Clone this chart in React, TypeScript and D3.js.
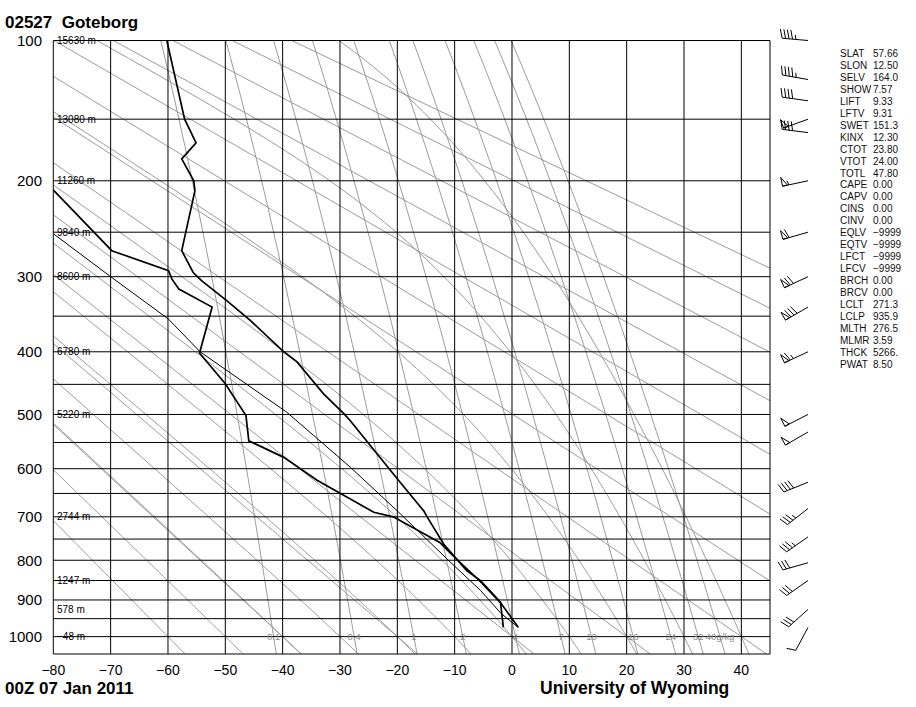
import React from 'react';
import * as d3 from 'd3';

const W = 916;
const H = 707;
const KAPPA = 0.2857;

// ---- Data ----
const isobarLevels = [100, 150, 200, 250, 300, 350, 400, 450, 500, 550, 600, 650, 700, 750, 800, 850, 900, 950, 1000, 1050];
const pressureLabels = [100, 200, 300, 400, 500, 600, 700, 800, 900, 1000];
const isotherms = [-80, -70, -60, -50, -40, -30, -20, -10, 0, 10, 20, 30, 40];

const heightP = [100, 150, 200, 250, 300, 400, 500, 700, 850, 925, 1000];
const heightLabels = ['15630 m', '13080 m', '11260 m', '9840 m', '8600 m', '6780 m', '5220 m', '2744 m', '1247 m', '578 m', '\u221248 m'];

// dry adiabats: potential temperature (deg C at 1000 hPa)
const dryAdiabats = [-60, -40, -20, 0, 20, 40, 60, 80, 100, 120, 140, 160, 180];
// moist adiabats: temperature at 1000 hPa
const moistAdiabats = [-50, -40, -30, -20, -10, 0, 10, 20, 30, 40];
// mixing ratio lines (g/kg)
const mixingRatios = [0.1, 0.4, 1, 2, 4, 7, 10, 16, 24, 32, 40];
const mixingLabels = ['0.1', '0.4', '1', '2', '4', '7', '10', '16', '24', '32', '40g/kg'];

// sounding
const tempP = [974, 901, 850, 825, 762, 700, 687, 623, 511, 500, 465, 415, 400, 356, 330, 305, 295, 270, 209, 200, 181, 168, 150, 100];
const tempC = [1.1, -2.3, -5.5, -7.9, -11.9, -14.8, -15.4, -19.8, -28.2, -29.2, -32.9, -37.5, -39.8, -45.6, -49.7, -54.1, -55.6, -57.6, -55.3, -55.5, -57.6, -55.1, -57.1, -60.2];

const dewP = [974, 907, 901, 850, 785, 758, 700, 690, 623, 578, 547, 502, 449, 402, 338, 315, 303, 293, 270, 209, 200];
const dewC = [-1.5, -2.0, -2.4, -5.7, -10.6, -12.6, -20.7, -24.1, -34.0, -39.8, -45.9, -46.4, -50.0, -54.5, -52.3, -58.1, -59.3, -59.9, -69.8, -79.9, -81.6];

const parcelP = [974, 936, 875, 804, 693, 597, 496, 400, 354, 301, 252];
const parcelC = [1.1, -1.9, -5.5, -10.8, -19.5, -28.2, -39.3, -54.4, -59.9, -69.8, -79.9];

// winds
const windP = [100, 123, 137, 150, 160, 200, 250, 300, 338, 400, 500, 531, 627, 682, 745, 806, 850, 925, 974];
const windDir = [275, 280, 278, 250, 277, 258, 254, 245, 240, 245, 243, 240, 248, 232, 235, 254, 235, 228, 208];
const windSpd = [45, 45, 40, 50, 40, 55, 60, 70, 80, 65, 50, 50, 40, 35, 35, 30, 30, 30, 10];

// station indices
const statLabels = ['SLAT', 'SLON', 'SELV', 'SHOW', 'LIFT', 'LFTV', 'SWET', 'KINX', 'CTOT', 'VTOT', 'TOTL', 'CAPE', 'CAPV', 'CINS', 'CINV', 'EQLV', 'EQTV', 'LFCT', 'LFCV', 'BRCH', 'BRCV', 'LCLT', 'LCLP', 'MLTH', 'MLMR', 'THCK', 'PWAT'];
const statValues = ['57.66', '12.50', '164.0', '7.57', '9.33', '9.31', '151.3', '12.30', '23.80', '24.00', '47.80', '0.00', '0.00', '0.00', '0.00', '\u22129999', '\u22129999', '\u22129999', '\u22129999', '0.00', '0.00', '271.3', '935.9', '276.5', '3.59', '5266.', '8.50'];

// ---- scales ----
const PL = 53.3, PR = 770, PT = 40.5, PB = 654;
const x = d3.scaleLinear().domain([-80, 45]).range([PL, PR]);
const y = d3.scalePow().exponent(KAPPA).domain([100, 1050]).range([PT, PB]);

// ---- thermodynamics for background lines ----
const Rd = 287.04, Cp = 1005.7, Lv = 2.501e6, EPS = 0.622;
const es = (tc: number) => 6.112 * Math.exp((17.67 * tc) / (tc + 243.5));
function moistDTdp(p: number, T: number) {
  const e = es(T - 273.15);
  const ws = (EPS * e) / (p - e);
  const num = Rd * T + Lv * ws;
  const den = Cp + (Lv * Lv * ws * EPS) / (Rd * T * T);
  return num / (den * p);
}
function rk4(p: number, T: number, h: number) {
  const k1 = moistDTdp(p, T);
  const k2 = moistDTdp(p + h / 2, T + (k1 * h) / 2);
  const k3 = moistDTdp(p + h / 2, T + (k2 * h) / 2);
  const k4 = moistDTdp(p + h, T + k3 * h);
  return T + (h * (k1 + 2 * k2 + 2 * k3 + k4)) / 6;
}
function moistPath(t1000: number): [number, number][] {
  const step = 5;
  const down: [number, number][] = [];
  let T = t1000 + 273.15;
  for (let p = 1000; p < 1050; p += step) {
    T = rk4(p, T, step);
    down.push([p + step, T - 273.15]);
  }
  const pts: [number, number][] = down.reverse();
  T = t1000 + 273.15;
  pts.push([1000, t1000]);
  for (let p = 1000; p > 100; p -= step) {
    T = rk4(p, T, -step);
    pts.push([p - step, T - 273.15]);
    if (T - 273.15 < -100) break;
  }
  return pts;
}
function mixingTd(w: number, p: number) {
  const e = (w * p) / (622 + w);
  const l = Math.log(e / 6.112);
  return (243.5 * l) / (17.67 - l);
}
const pSamples = d3.range(100, 1051, 10);

const line = d3
  .line<[number, number]>()
  .x((d) => x(d[1]))
  .y((d) => y(d[0]));

const FONT = "'Liberation Sans', Arial, Helvetica, sans-serif";

function Barb({ p, dir, spd }: { p: number; dir: number; spd: number }) {
  const sx = 808;
  const sy = y(p);
  const rad = (dir * Math.PI) / 180;
  const ux = Math.sin(rad);
  const uy = -Math.cos(rad);
  const nx = -uy;
  const ny = ux;
  const L = 26;
  const ex = sx + ux * L;
  const ey = sy + uy * L;
  let s = Math.round(spd / 5) * 5;
  const flags = Math.floor(s / 50);
  s -= flags * 50;
  const fulls = Math.floor(s / 10);
  s -= fulls * 10;
  const half = s >= 5;
  const BL = 9, SP = 3.5, FW = 5;
  const els: React.ReactNode[] = [];
  els.push(<line key="staff" x1={sx} y1={sy} x2={ex} y2={ey} />);
  let pos = 0;
  for (let i = 0; i < flags; i++) {
    const ax = ex - ux * pos, ay = ey - uy * pos;
    const bx = ax + nx * BL, by = ay + ny * BL;
    const cx = ex - ux * (pos + FW), cy = ey - uy * (pos + FW);
    els.push(<polygon key={'f' + i} points={`${ax},${ay} ${bx},${by} ${cx},${cy}`} fill="none" />);
    pos += FW + 1.5;
  }
  for (let i = 0; i < fulls; i++) {
    const ax = ex - ux * pos, ay = ey - uy * pos;
    els.push(<line key={'b' + i} x1={ax} y1={ay} x2={ax + nx * BL + ux * 2.5} y2={ay + ny * BL + uy * 2.5} />);
    pos += SP;
  }
  if (half) {
    if (pos === 0) pos = SP;
    const ax = ex - ux * pos, ay = ey - uy * pos;
    els.push(<line key="h" x1={ax} y1={ay} x2={ax + nx * BL * 0.5 + ux * 1.2} y2={ay + ny * BL * 0.5 + uy * 1.2} />);
  }
  return <g>{els}</g>;
}

export default function App() {
  const tempData = tempP.map((p, i) => [p, tempC[i]] as [number, number]);
  const dewData = dewP.map((p, i) => [p, dewC[i]] as [number, number]);
  const parcelData = parcelP.map((p, i) => [p, parcelC[i]] as [number, number]);
  const gray = '#9a9a9a';

  return (
    <svg width={W} height={H} style={{ position: 'absolute', left: 0, top: 0, background: '#fff' }} fontFamily={FONT}>
      <defs>
        <clipPath id="plotClip">
          <rect x={PL} y={PT} width={PR - PL} height={PB - PT} />
        </clipPath>
      </defs>
      <rect x={0} y={0} width={W} height={H} fill="#fff" />

      {/* background thermodynamic lines */}
      <g clipPath="url(#plotClip)" fill="none" stroke={gray} strokeWidth={1}>
        {dryAdiabats.map((th) => {
          const thK = th + 273.15;
          const pts = pSamples.map((p) => [p, thK * Math.pow(p / 1000, KAPPA) - 273.15] as [number, number]);
          return <path key={'d' + th} d={line(pts) || ''} />;
        })}
        {moistAdiabats.map((t) => (
          <path key={'m' + t} d={line(moistPath(t)) || ''} />
        ))}
        {mixingRatios.map((w) => {
          const pts = pSamples.map((p) => [p, mixingTd(w, p)] as [number, number]);
          return <path key={'w' + w} d={line(pts) || ''} />;
        })}
      </g>

      {/* grid */}
      <g stroke="#000" strokeWidth={1} fill="none">
        {isobarLevels.map((p) => (
          <line key={'p' + p} x1={PL} x2={PR} y1={y(p)} y2={y(p)} />
        ))}
        {isotherms.map((t) => (
          <line key={'t' + t} x1={x(t)} x2={x(t)} y1={PT} y2={PB} />
        ))}
        <line x1={PR} x2={PR} y1={PT} y2={PB} />
      </g>

      {/* mixing ratio labels */}
      <g fill="#8a8a8a" fontSize={9.5} textAnchor="middle">
        {mixingRatios.map((w, i) => (
          <text key={'wl' + w} x={x(mixingTd(w, 1000))} y={y(1000)} dy="0.35em">
            {mixingLabels[i]}
          </text>
        ))}
      </g>

      {/* sounding */}
      <g clipPath="url(#plotClip)" fill="none" stroke="#000">
        <path d={line(parcelData) || ''} strokeWidth={1} />
        <path d={line(dewData) || ''} strokeWidth={1.7} />
        <path d={line(tempData) || ''} strokeWidth={1.7} />
      </g>

      {/* height labels */}
      <g fontSize={10} fill="#000">
        {heightP.map((p, i) => (
          <text key={'h' + p} x={57} y={y(p)} dy="0.35em">
            {heightLabels[i]}
          </text>
        ))}
      </g>

      {/* pressure axis labels */}
      <g fontSize={15} fill="#000" textAnchor="end">
        {pressureLabels.map((p) => (
          <text key={'pl' + p} x={42} y={y(p)} dy="0.35em">
            {p}
          </text>
        ))}
      </g>

      {/* temperature axis labels */}
      <g fontSize={14} fill="#000" textAnchor="middle">
        {isotherms.map((t) => (
          <text key={'tl' + t} x={x(t)} y={674.5}>
            {t < 0 ? '\u2212' + Math.abs(t) : String(t)}
          </text>
        ))}
      </g>

      {/* wind barbs */}
      <g stroke="#000" strokeWidth={1} fill="none">
        {windP.map((p, i) => (
          <Barb key={'wb' + i} p={p} dir={windDir[i]} spd={windSpd[i]} />
        ))}
      </g>

      {/* station stats */}
      <g fontSize={10} fill="#111">
        {statLabels.map((s, i) => (
          <g key={'s' + s}>
            <text x={840} y={57 + i * 11.95}>
              {s}
            </text>
            <text x={873} y={57 + i * 11.95}>
              {statValues[i]}
            </text>
          </g>
        ))}
      </g>

      {/* titles */}
      <text x={5} y={28} fontSize={17} fontWeight="bold" fill="#000">
        {'02527\u00a0\u00a0Goteborg'}
      </text>
      <text x={5} y={693.5} fontSize={17} fontWeight="bold" fill="#000">
        00Z 07 Jan 2011
      </text>
      <text x={540} y={693.5} fontSize={17.5} fontWeight="bold" fill="#000">
        University of Wyoming
      </text>
    </svg>
  );
}
